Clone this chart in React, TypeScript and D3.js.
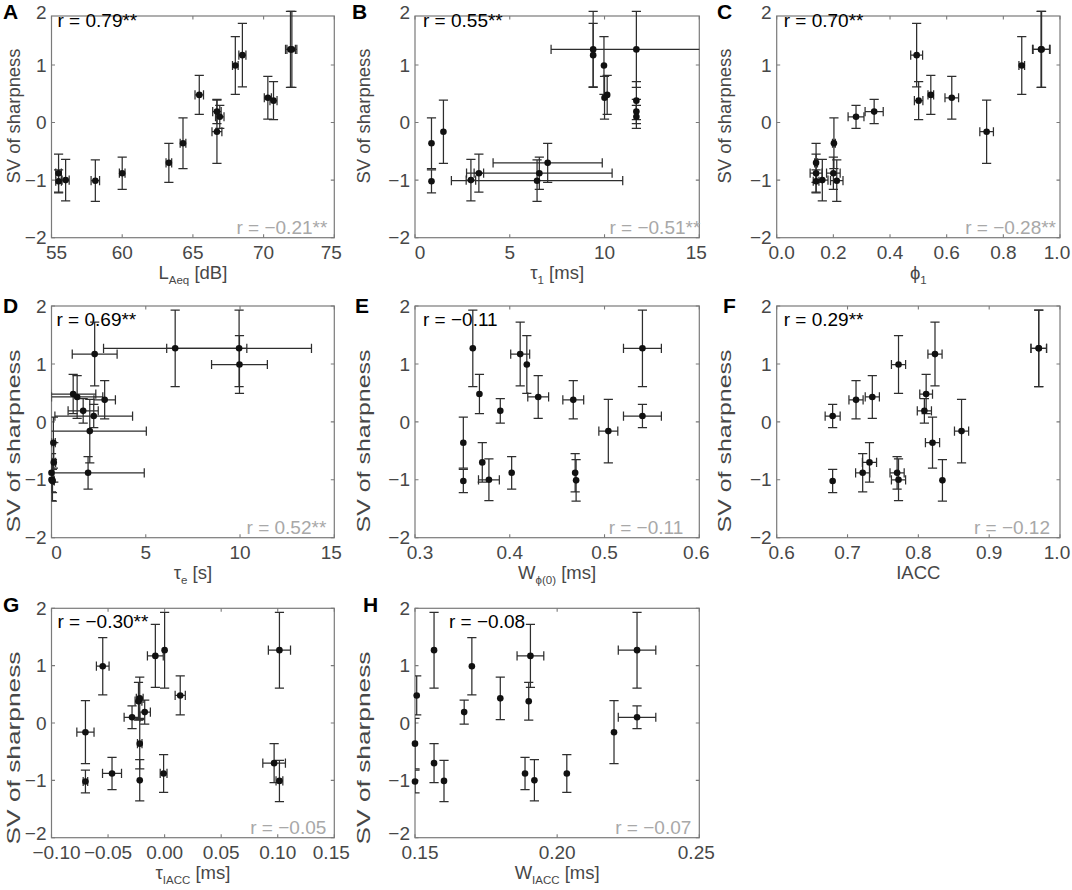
import React, { useRef, useEffect } from "react";
import * as d3 from "d3";

// SV of sharpness for the 17 sound fields (mean and error bar half-length)
const svMean = [1.27, 1.27, 1.17, 0.99, 0.48, 0.43, 0.38, 0.19, 0.1, -0.16, -0.36, -0.7, -0.88, -0.88, -1.0, -1.01, -1.02];
const svErr = [0.66, 0.66, 0.55, 0.5, 0.34, 0.37, 0.33, 0.21, 0.2, 0.55, 0.44, 0.34, 0.28, 0.33, 0.36, 0.36, 0.2];

// physical factors, same order as svMean
const laeq = [71.9, 72.0, 68.5, 68.0, 65.45, 70.3, 70.7, 66.7, 66.9, 66.7, 64.3, 63.3, 60.0, 55.5, 56.0, 58.1, 55.5];
const laeqErr = [0.35, 0.35, 0.25, 0.2, 0.3, 0.25, 0.25, 0.3, 0.3, 0.35, 0.2, 0.2, 0.2, 0.2, 0.25, 0.3, 0.2];

const tau1 = [9.4, 11.68, 9.4, 9.97, 10.14, 10.0, 11.68, 11.68, 11.68, 1.5, 0.87, 7.0, 6.56, 3.37, 2.95, 6.44, 0.87];
const tau1Err = [0, 4.5, 0, 0, 0, 0, 0, 0, 0, 0, 0, 2.88, 3.84, 0.25, 0.25, 4.52, 0];

const phi1 = [0.933, 0.935, 0.494, 0.865, 0.544, 0.618, 0.501, 0.344, 0.28, 0.741, 0.202, 0.139, 0.2, 0.139, 0.161, 0.212, 0.139];
const phi1Err = [0.03, 0.03, 0.021, 0.01, 0.01, 0.024, 0.015, 0.032, 0.028, 0.024, 0.005, 0.005, 0.024, 0.021, 0.02, 0.022, 0.01];

const tauE = [6.56, 9.95, 2.29, 9.97, 1.15, 1.36, 2.82, 1.68, 2.24, 2.03, 0.1, 0.12, 1.94, 0.0, 0.0, 0.05, 0.05];
const tauEErr = [3.8, 3.84, 1.19, 1.48, 1.2, 1.36, 0.57, 0.8, 2.06, 3.0, 0.1, 0.1, 2.98, 0.05, 0.05, 0.05, 0.1];

const wPhi0 = [0.361, 0.54, 0.411, 0.418, 0.368, 0.43, 0.467, 0.39, 0.54, 0.504, 0.351, 0.371, 0.402, 0.469, 0.378, 0.47, 0.351];
const wPhi0Err = [0, 0.02, 0.01, 0, 0, 0.011, 0.011, 0, 0.02, 0.01, 0, 0, 0, 0, 0.011, 0, 0];

const iacc = [0.97, 0.97, 0.8235, 0.772, 0.811, 0.735, 0.712, 0.8085, 0.679, 0.861, 0.82, 0.731, 0.77, 0.7214, 0.772, 0.834, 0.679];
const iaccErr = [0.011, 0.011, 0.01, 0.01, 0.009, 0.01, 0.01, 0.01, 0.0106, 0.01, 0.01, 0.01, 0.01, 0.01, 0.01, 0, 0];

const tauIacc = [0.0, 0.1015, -0.0082, -0.0547, 0.0138, -0.022, -0.0231, -0.0176, -0.0288, -0.07, -0.022, 0.0968, -0.0465, -0.0009, -0.022, 0.1015, -0.07];
const tauIaccErr = [0, 0.0098, 0.007, 0.0056, 0.0045, 0.003, 0.003, 0.005, 0.007, 0.0076, 0.002, 0.01, 0.0084, 0.003, 0, 0.003, 0.002];

const wIacc = [0.1567, 0.2281, 0.1906, 0.17, 0.1506, 0.18, 0.19, 0.1673, 0.2281, 0.22, 0.15, 0.1567, 0.1887, 0.2034, 0.192, 0.1602, 0.15];
const wIaccErr = [0, 0.0066, 0.0047, 0, 0, 0, 0, 0, 0.0066, 0, 0, 0, 0, 0, 0, 0, 0];

const yTicks = [-2, -1, 0, 1, 2];
const panelLetters = ["A", "B", "C", "D", "E", "F", "G", "H"];
const rTopLabels = ["r = 0.79**", "r = 0.55**", "r = 0.70**", "r = 0.69**", "r = \u22120.11", "r = 0.29**", "r = \u22120.30**", "r = \u22120.08"];
const rBottomLabels = ["r = \u22120.21**", "r = \u22120.51**", "r = \u22120.28**", "r = 0.52**", "r = \u22120.11", "r = \u22120.12", "r = \u22120.05", "r = \u22120.07"];

const cols = [
  { left: 51.5, right: 334.3, yLabelX: 20 },
  { left: 415, right: 699.3, yLabelX: 370 },
  { left: 776.7, right: 1060, yLabelX: 731 },
];
const rows = [
  { top: 16, bottom: 237.7, yMax: 1.85, letterY: 19, yLabelCy: 116, yLabelLen: 135, bottomLift: 0 },
  { top: 306, bottom: 537.7, yMax: 2, letterY: 313, yLabelCy: 441, yLabelLen: 183, bottomLift: 0 },
  { top: 608.3, bottom: 837.7, yMax: 2, letterY: 612, yLabelCy: 748, yLabelLen: 193, bottomLift: 4 },
];

const panels = [
  { xs: laeq, xe: laeqErr, domain: [55, 75], step: 5, fmt: "d", label: ["L", "Aeq", " [dB]"], letterX: 3, rTopDx: 6, rBotDx: -7 },
  { xs: tau1, xe: tau1Err, domain: [0, 15], step: 5, fmt: "d", label: ["\u03c4", "1", " [ms]"], letterX: 352, rTopDx: 8, rBotDx: 1 },
  { xs: phi1, xe: phi1Err, domain: [0, 1], step: 0.2, fmt: ".1f", label: ["\u03d5", "1", ""], letterX: 717, rTopDx: 7, rBotDx: -4 },
  { xs: tauE, xe: tauEErr, domain: [0, 15], step: 5, fmt: "d", label: ["\u03c4", "e", " [s]"], letterX: 3, rTopDx: 5, rBotDx: -8 },
  { xs: wPhi0, xe: wPhi0Err, domain: [0.3, 0.6], step: 0.1, fmt: ".1f", label: ["W", "\u03d5(0)", " [ms]"], letterX: 355, rTopDx: 8, rBotDx: -16 },
  { xs: iacc, xe: iaccErr, domain: [0.6, 1.0], step: 0.1, fmt: ".1f", label: ["IACC", "", ""], letterX: 723, rTopDx: 7, rBotDx: -10 },
  { xs: tauIacc, xe: tauIaccErr, domain: [-0.1, 0.15], step: 0.05, fmt: ".2f", label: ["\u03c4", "IACC", " [ms]"], letterX: 3, rTopDx: 6, rBotDx: -8 },
  { xs: wIacc, xe: wIaccErr, domain: [0.15, 0.25], step: 0.05, fmt: ".2f", label: ["W", "IACC", " [ms]"], letterX: 363, rTopDx: 34, rBotDx: -8 },
];

const FONT = "'Liberation Sans', Arial, Helvetica, sans-serif";
const axisColor = "#7a7a7a";
const textColor = "#474747";
const barColor = "#2e2e2e";

const App: React.FC = () => {
  const svgRef = useRef<SVGSVGElement>(null);

  useEffect(() => {
    document.body.style.margin = "0";
    if (!svgRef.current) return;
    const svg = d3.select(svgRef.current);
    svg.selectAll("*").remove();
    const defs = svg.append("defs");
    const yFmt = d3.format("d");

    panels.forEach((p, i) => {
      const col = cols[i % 3];
      const row = rows[Math.floor(i / 3)];
      const x = d3.scaleLinear().domain(p.domain).range([col.left, col.right]);
      const y = d3.scaleLinear().domain([-2, row.yMax]).range([row.bottom, row.top]);
      const g = svg.append("g").attr("font-family", FONT);

      const n = Math.round((p.domain[1] - p.domain[0]) / p.step);
      const xTicks = d3.range(n + 1).map((k) => p.domain[0] + k * p.step);
      const fmt = d3.format(p.fmt);

      // axis box
      g.append("rect")
        .attr("x", col.left)
        .attr("y", row.top)
        .attr("width", col.right - col.left)
        .attr("height", row.bottom - row.top)
        .attr("fill", "none")
        .attr("stroke", axisColor)
        .attr("stroke-width", 1.2);

      // inward tick marks on all four sides
      const tl = 3.5;
      const tickPath = d3.path();
      xTicks.forEach((t) => {
        tickPath.moveTo(x(t), row.bottom);
        tickPath.lineTo(x(t), row.bottom - tl);
        tickPath.moveTo(x(t), row.top);
        tickPath.lineTo(x(t), row.top + tl);
      });
      yTicks
        .filter((t) => t <= row.yMax)
        .forEach((t) => {
          tickPath.moveTo(col.left, y(t));
          tickPath.lineTo(col.left + tl, y(t));
          tickPath.moveTo(col.right, y(t));
          tickPath.lineTo(col.right - tl, y(t));
        });
      g.append("path").attr("d", tickPath.toString()).attr("stroke", axisColor).attr("stroke-width", 1.1).attr("fill", "none");

      // x tick labels
      g.selectAll("text.xt")
        .data(xTicks)
        .join("text")
        .attr("class", "xt")
        .attr("x", (d, k) => x(d) + (k === 0 ? 5 : k === xTicks.length - 1 ? -3 : 0))
        .attr("y", row.bottom + 21.5)
        .attr("text-anchor", "middle")
        .attr("font-size", 19)
        .attr("fill", textColor)
        .text((d) => fmt(d));

      // y tick labels
      g.selectAll("text.yt")
        .data(yTicks)
        .join("text")
        .attr("class", "yt")
        .attr("x", col.left - 5)
        .attr("y", (d) => Math.max(y(d), row.top - 4) - (d === -2 ? row.bottomLift : 0))
        .attr("dy", "0.35em")
        .attr("text-anchor", "end")
        .attr("font-size", 19)
        .attr("fill", textColor)
        .text((d) => yFmt(d));

      // x axis label with subscript
      const xl = g.append("text")
        .attr("x", (col.left + col.right) / 2)
        .attr("y", row.bottom + 41)
        .attr("text-anchor", "middle")
        .attr("font-size", 18.5)
        .attr("fill", textColor);
      xl.append("tspan").text(p.label[0]);
      if (p.label[1]) xl.append("tspan").attr("font-size", 11.5).attr("dy", 5).text(p.label[1]);
      if (p.label[2]) xl.append("tspan").attr("dy", p.label[1] ? -5 : 0).text(p.label[2]);

      // y axis label
      g.append("text")
        .attr("transform", `translate(${col.yLabelX},${row.yLabelCy}) rotate(-90)`)
        .attr("text-anchor", "middle")
        .attr("font-size", 19)
        .attr("fill", textColor)
        .attr("textLength", row.yLabelLen)
        .attr("lengthAdjust", "spacingAndGlyphs")
        .text("SV of sharpness");

      // panel letter
      g.append("text")
        .attr("x", p.letterX)
        .attr("y", row.letterY)
        .attr("font-size", 21)
        .attr("font-weight", "bold")
        .attr("fill", "#000")
        .text(panelLetters[i]);

      // correlation labels
      g.append("text")
        .attr("x", col.left + p.rTopDx)
        .attr("y", y(1.66))
        .attr("font-size", 19)
        .attr("fill", "#000")
        .text(rTopLabels[i]);
      g.append("text")
        .attr("x", col.right + p.rBotDx)
        .attr("y", y(-1.93))
        .attr("text-anchor", "end")
        .attr("font-size", 19)
        .attr("fill", "#a8a8a8")
        .text(rBottomLabels[i]);

      // error bars, clipped horizontally to the axes
      const clipId = `clip-${i}`;
      defs.append("clipPath")
        .attr("id", clipId)
        .append("rect")
        .attr("x", col.left)
        .attr("y", row.top - 40)
        .attr("width", col.right - col.left)
        .attr("height", row.bottom - row.top + 80);

      const pts = p.xs.map((xv, k) => ({ x: xv, xe: p.xe[k], y: svMean[k], ye: svErr[k] }));
      const cap = 4.6;

      g.append("g")
        .attr("clip-path", `url(#${clipId})`)
        .selectAll("path")
        .data(pts)
        .join("path")
        .attr("fill", "none")
        .attr("stroke", barColor)
        .attr("stroke-width", 1.25)
        .attr("d", (d) => {
          const pa = d3.path();
          const cx = x(d.x);
          const cy = y(d.y);
          const y1 = y(d.y + d.ye);
          const y2 = y(d.y - d.ye);
          pa.moveTo(cx, y1);
          pa.lineTo(cx, y2);
          pa.moveTo(cx - cap, y1);
          pa.lineTo(cx + cap, y1);
          pa.moveTo(cx - cap, y2);
          pa.lineTo(cx + cap, y2);
          if (d.xe > 0) {
            const x1 = x(d.x - d.xe);
            const x2 = x(d.x + d.xe);
            pa.moveTo(x1, cy);
            pa.lineTo(x2, cy);
            pa.moveTo(x1, cy - cap);
            pa.lineTo(x1, cy + cap);
            pa.moveTo(x2, cy - cap);
            pa.lineTo(x2, cy + cap);
          }
          return pa.toString();
        });

      g.append("g")
        .selectAll("circle")
        .data(pts)
        .join("circle")
        .attr("cx", (d) => x(d.x))
        .attr("cy", (d) => y(d.y))
        .attr("r", 3.3)
        .attr("fill", "#111");
    });

    return () => {
      svg.selectAll("*").remove();
    };
  }, []);

  return <svg ref={svgRef} width={1072} height={890} style={{ display: "block", background: "#fff" }} />;
};

export default App;
